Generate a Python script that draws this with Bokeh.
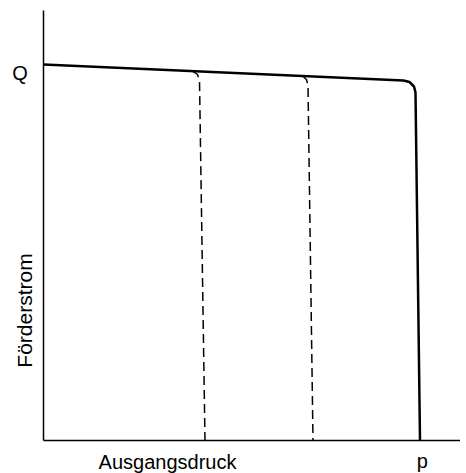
import math
from bokeh.plotting import figure
from bokeh.models import Range1d, Label, FixedTicker
from bokeh.embed import file_html
from bokeh.resources import INLINE

# Main characteristic curve (Förderstrom vs. Ausgangsdruck)
main_p = [0, 360, 366, 370.5, 372, 376.5]
main_q = [376, 360, 358.5, 354, 348, 0]

# Dashed branch 1
dash1_p = [149, 154, 156, 161.5]
dash1_q = [369.4, 366, 360, 0]

# Dashed branch 2
dash2_p = [259, 263, 264.5, 269.5]
dash2_q = [364.5, 361, 355, 0]

# Axis extents
p_max = 417
q_max = 430

FONT = "Liberation Sans"

p = figure(width=460, height=473, output_backend="svg", toolbar_location=None,
           x_range=Range1d(-43, 417), y_range=Range1d(-33, 440),
           min_border_left=0, min_border_right=0, min_border_top=0, min_border_bottom=0)
p.outline_line_color = None
p.xgrid.visible = False
p.ygrid.visible = False
p.background_fill_color = "white"
p.border_fill_color = "white"

for ax in (p.xaxis[0], p.yaxis[0]):
    ax.ticker = FixedTicker(ticks=[])
    ax.major_tick_line_color = None
    ax.minor_tick_line_color = None
    ax.major_tick_out = 0
    ax.major_tick_in = 0
    ax.minor_tick_out = 0
    ax.minor_tick_in = 0
    ax.major_label_standoff = 0
    ax.major_label_text_font_size = "0px"
    ax.axis_line_color = "black"
    ax.axis_line_width = 1.5
    ax.fixed_location = 0
p.xaxis[0].bounds = (0, p_max)
p.yaxis[0].bounds = (0, q_max)

p.line(main_p, main_q, line_color="black", line_width=2.5)
p.line(dash1_p, dash1_q, line_color="black", line_width=1.5, line_dash="9 5")
p.line(dash2_p, dash2_q, line_color="black", line_width=1.5, line_dash="9 5")

def lab(x, y, text, align="center", angle=0.0, size="20px"):
    p.add_layout(Label(x=x, y=y, text=text, text_font=FONT, text_font_size=size,
                       text_color="black", text_align=align, text_baseline="alphabetic",
                       angle=angle))

lab(-23.5, 367.5, "Q")
lab(-19, 130, "Förderstrom", angle=math.pi / 2, size="21px")
lab(124, -21, "Ausgangsdruck")
lab(378.7, -20, "p")

open("out.html", "w").write(file_html(p, INLINE))
